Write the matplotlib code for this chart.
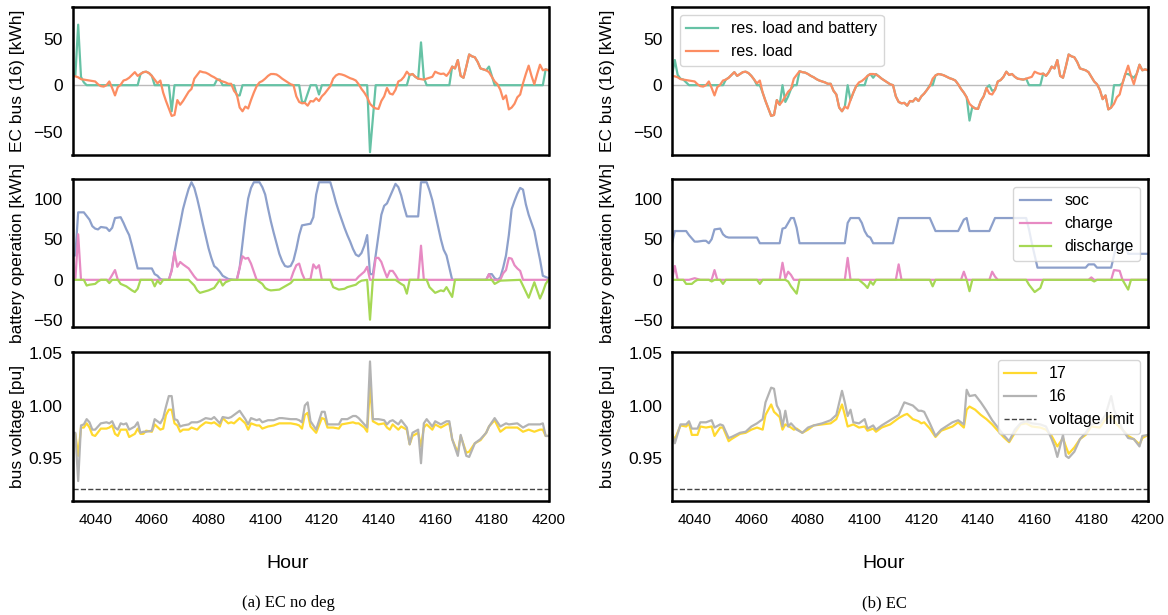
import numpy as np
import matplotlib
matplotlib.use("Agg")
import matplotlib.pyplot as plt

plt.rcParams['font.family'] = ['Liberation Sans', 'DejaVu Sans']

# ---- data ----
hours = np.arange(4032, 4201)

# residual load at bus 16, same in both runs
res_load = [10, 9.5, 8.5, 6.5, 6, 5.5, 5, 4.5, 4, 1,
            -1, -1.5, 0, 4, -3, -11, -2, 0.5, 5, 6,
            8, 11, 14, 10, 12, 14, 14.5, 13, 10, 6,
            2, 5, -8, -17, -25, -33, -32, -16, -21, -17,
            -12, -7, -4, 7, 11, 15, 14, 13.5, 12, 10,
            8.5, 6.5, 5, 4, 3, 1.5, 1.5, -6, -10, -24,
            -28, -23, -25, -16, -8, -1, 3, 4.5, 7, 10,
            12, 12, 11.5, 9.5, 7, 5, 3, 1, 0, -12,
            -18, -19.5, -19, -22, -17, -17.5, -14, -17, -12, -9,
            -5, -1, 7, 10.5, 12, 11.5, 10.5, 9, 7.5, 6.5,
            5, 1, -4, -8, -13, -20, -23, -25, -25.5, -17,
            -12, -3, -9, -10, -5, 4, 5.5, 9, 14.5, 11,
            12, 9, 7, 6.5, 6, 7, 8, 9, 14.5, 13,
            12, 12.5, 10, 14, 20, 18, 27, 10, 8, 20,
            33, 31, 30, 25, 18, 17, 16, 14, 9, 4,
            1, -5, -15, -11, -26, -24, -20, -13, -10, 2,
            12, 21, 10, 1, 12, 22, 16, 17, 16]

# res. load and battery, EC run
res_bat_ec = [10, 27, 11, 7, 6, 3, 0, 0, 0, 0,
              0, 0, 0, 0, 0, 0, 0, 0, 0, 6,
              8, 11, 14, 10, 12, 14, 14.5, 13, 10, 6,
              0, 0, -8, -17, -25, -33, -32, -16, -21, 0,
              -18, -12, -4, 0, 0, 15, 14, 13.5, 12, 10,
              8.5, 6.5, 5, 4, 3, 1.5, 1.5, -6, -10, -24,
              -28, -23, 0, -16, -8, -1, 0, 0, 0, 10,
              12, 8, 12, 9.5, 7, 5, 3, 1, 0, -12,
              -18, -19.5, -19, -22, -17, -17.5, -14, -17, -12, -9,
              -5, 0, 0, 10.5, 12, 11.5, 10.5, 9, 7.5, 6.5,
              5, 1, -4, -8, -13, -38, -23, -25, -25.5, -17,
              -12, -3, 0, -6, -5, 4, 5.5, 9, 14.5, 11,
              12, 9, 7, 6.5, 6, 7, 0, 0, 0, 0,
              0, 12.5, 10, 14, 20, 18, 27, 10, 8, 20,
              33, 31, 30, 25, 18, 17, 16, 14, 9, 4,
              1, -5, -15, -11, -26, -24, 0, 0, 0, 2,
              12, 12, 10, 8, 12, 22, 16, 17, 16]

# res. load and battery, EC no deg run (break points)
res_bat_nd_h = [4032, 4033, 4034, 4035, 4036, 4037, 4055, 4056, 4057, 4058, 4059, 4060, 4061,
                4066, 4067, 4068, 4082, 4083, 4084, 4085, 4089, 4090, 4091, 4092,
                4112, 4113, 4114, 4116, 4118, 4119, 4120, 4136, 4137, 4139,
                4150, 4151, 4152, 4153, 4154, 4155, 4156, 4157,
                4165, 4166, 4167, 4168, 4169, 4170, 4171, 4172, 4173, 4174, 4175, 4176,
                4177, 4178, 4179, 4180, 4181, 4198, 4199, 4200]
res_bat_nd = [10, 10, 65, 9, 3, 0, 0, 12, 14, 14.5, 13, 10, 0,
              0, -28, 0, 0, 6, 6, 0, 0, -11, -11, 0,
              0, -18, -18, 0, 0, -10, 0, 0, -72, 0,
              0, 11, 12, 9, 7, 46, 8, 0,
              0, 20, 18, 27, 10, 8, 20, 33, 31, 30, 25, 18,
              17, 16, 20, 10, 0, 0, 17, 16]

# battery, EC no deg
soc_nd_h = [4032, 4033, 4034, 4036, 4038, 4039, 4040, 4041, 4042, 4044, 4045, 4046, 4047, 4049,
            4050, 4051, 4052, 4053, 4054, 4055, 4060, 4061, 4062, 4063, 4064, 4066, 4067, 4068,
            4069, 4070, 4071, 4072, 4073, 4074, 4075, 4076, 4077, 4078, 4079, 4080, 4081, 4082,
            4083, 4084, 4085, 4087, 4089, 4090, 4091, 4092, 4093, 4094, 4095, 4096, 4098, 4099,
            4100, 4101, 4102, 4103, 4104, 4105, 4106, 4107, 4108, 4109, 4110, 4111, 4112, 4113,
            4116, 4117, 4118, 4119, 4123, 4124, 4125, 4126, 4127, 4128, 4129, 4130, 4131, 4132,
            4133, 4134, 4135, 4136, 4137, 4138, 4139, 4140, 4141, 4142, 4143, 4144, 4145, 4146,
            4147, 4148, 4149, 4150, 4154, 4155, 4157, 4158, 4159, 4160, 4161, 4162, 4163, 4164,
            4165, 4166, 4178, 4179, 4180, 4181, 4182, 4183, 4184, 4185, 4186, 4187, 4188, 4189,
            4190, 4191, 4192, 4193, 4194, 4195, 4196, 4197, 4198, 4200]
soc_nd = [30, 30, 83, 83, 74, 66, 63, 62, 65, 64, 60, 64, 76, 77,
          70, 62, 55, 42, 28, 14, 14, 7, 5, 1, 0, 0, 12, 34,
          52, 69, 87, 100, 112, 120, 113, 100, 85, 69, 54, 39, 27, 17,
          14, 10, 5, 1, 0, 0, 15, 45, 75, 100, 113, 120, 120, 114,
          105, 88, 72, 58, 45, 32, 23, 17, 16, 17, 24, 38, 55, 67,
          69, 77, 105, 120, 120, 108, 95, 84, 74, 64, 55, 47, 38, 31,
          29, 33, 42, 55, 7, 7, 30, 55, 80, 91, 94, 102, 110, 118,
          114, 104, 90, 78, 78, 120, 120, 110, 98, 82, 66, 50, 37, 30,
          15, 0, 0, 7, 7, 2, 0, 3, 15, 30, 55, 87, 97, 106,
          113, 111, 93, 80, 70, 60, 42, 25, 5, 2]

charge_nd_h = [4032, 4033, 4034, 4035, 4045, 4047, 4048, 4066, 4067, 4068, 4069, 4070, 4071,
               4073, 4075, 4076, 4090, 4091, 4092, 4093, 4094, 4095, 4096, 4097, 4109, 4110,
               4111, 4112, 4113, 4114, 4116, 4117, 4118, 4119, 4120, 4132, 4133, 4135, 4136,
               4137, 4138, 4139, 4140, 4141, 4142, 4143, 4144, 4145, 4146, 4147, 4154, 4155,
               4156, 4178, 4179, 4180, 4183, 4184, 4185, 4186, 4187, 4188, 4189, 4190, 4191, 4200]
charge_nd = [0, 0, 56, 0, 0, 12, 0, 0, 11, 34, 16, 22, 19,
             14, 4, 0, 0, 15, 29, 26, 27, 20, 10, 0, 0, 10,
             18, 20, 8, 0, 1, 19, 14, 18, 0, 0, 4, 10, 16,
             0, 0, 27, 27, 22, 12, 3, 11, 11, 6, 0, 0, 42,
             0, 0, 7, 0, 0, 8, 12, 27, 26, 18, 14, 11, 0, 0]

discharge_nd_h = [4032, 4036, 4037, 4038, 4040, 4041, 4042, 4044, 4045, 4046, 4048, 4049, 4051,
                  4053, 4054, 4055, 4056, 4060, 4061, 4062, 4063, 4064, 4073, 4075, 4076, 4077,
                  4080, 4082, 4083, 4084, 4085, 4086, 4088, 4097, 4099, 4100, 4101, 4102, 4105,
                  4106, 4108, 4109, 4110, 4123, 4124, 4126, 4128, 4129, 4132, 4133, 4134, 4136,
                  4137, 4138, 4146, 4148, 4149, 4150, 4151, 4157, 4158, 4160, 4162, 4163, 4164,
                  4166, 4167, 4180, 4181, 4183, 4190, 4193, 4195, 4197, 4198, 4199, 4200]
discharge_nd = [0, 0, -7, -6, -5, -2, 0, 0, -4, 0, 0, -5, -8,
                -13, -15, -11, 0, 0, -8, -1, -5, 0, 0, -7, -13, -16,
                -13, -10, -5, 0, -7, -3, 0, 0, -5, -10, -12, -13, -12,
                -10, -6, -4, 0, 0, -9, -12, -11, -9, -6, -3, -1, 0,
                -49, 0, 0, -5, -7, -17, 0, 0, -9, -16, -13, -14, -9,
                -21, 0, 0, -5, -1, 0, -22, -3, -23, -15, -5, 0]

# battery, EC
soc_ec_h = [4032, 4033, 4037, 4038, 4039, 4040, 4041, 4043, 4044, 4045, 4046, 4047, 4049, 4050,
            4051, 4052, 4062, 4063, 4070, 4071, 4072, 4073, 4074, 4075, 4076, 4077, 4093, 4094,
            4095, 4098, 4099, 4100, 4101, 4102, 4103, 4110, 4112, 4123, 4125, 4133, 4135, 4136,
            4137, 4144, 4146, 4157, 4158, 4159, 4160, 4161, 4178, 4179, 4181, 4182, 4187, 4188,
            4189, 4192, 4193, 4200]
soc_ec = [45, 60, 60, 55, 51, 47, 47, 48, 48, 45, 50, 62, 63, 56,
          53, 52, 52, 45, 45, 63, 64, 70, 76, 76, 64, 45, 45, 70,
          76, 76, 70, 60, 54, 52, 45, 45, 76, 76, 60, 60, 74, 76,
          60, 60, 76, 76, 62, 45, 30, 15, 15, 19, 19, 15, 15, 30,
          45, 45, 32, 32]

charge_ec_h = [4032, 4033, 4034, 4038, 4040, 4042, 4046, 4047, 4048, 4070, 4071, 4072, 4073,
               4074, 4075, 4093, 4094, 4095, 4111, 4112, 4113, 4134, 4135, 4136, 4144, 4145,
               4146, 4147, 4179, 4180, 4181, 4187, 4188, 4190, 4191, 4200]
charge_ec = [0, 17, 0, 0, 2, 0, 0, 12, 0, 0, 21, 2, 10,
             6, 0, 0, 27, 0, 0, 19, 0, 0, 10, 0, 0, 10,
             4, 0, 0, 3, 0, 0, 12, 11, 0, 0]

discharge_ec_h = [4032, 4036, 4037, 4039, 4040, 4041, 4045, 4046, 4047, 4049, 4050, 4051, 4062,
                  4063, 4064, 4072, 4073, 4074, 4076, 4077, 4098, 4100, 4101, 4102, 4103, 4104,
                  4123, 4124, 4125, 4136, 4137, 4138, 4157, 4158, 4160, 4162, 4163, 4180, 4181,
                  4182, 4191, 4193, 4194, 4200]
discharge_ec = [0, 0, -5, -5, -2, 0, 0, -2, 0, 0, -5, 0, 0,
                -5, 0, 0, -2, -8, -17, 0, 0, -6, -10, -2, -6, 0,
                0, -8, 0, 0, -14, 0, 0, -6, -15, -10, 0, 0, -2,
                0, 0, -12, 0, 0]

# bus voltages, EC no deg
volt_nd_h = [4032, 4033, 4034, 4035, 4036, 4037, 4038, 4039, 4040, 4042, 4044, 4045, 4046, 4047,
             4048, 4049, 4050, 4051, 4052, 4054, 4055, 4056, 4057, 4058, 4060, 4061, 4063, 4064,
             4065, 4066, 4067, 4068, 4069, 4070, 4071, 4073, 4074, 4076, 4077, 4079, 4081, 4082,
             4084, 4085, 4087, 4088, 4089, 4091, 4093, 4094, 4095, 4097, 4098, 4099, 4101, 4103,
             4105, 4106, 4109, 4111, 4112, 4113, 4114, 4115, 4116, 4118, 4120, 4121, 4122, 4124,
             4126, 4127, 4129, 4131, 4132, 4133, 4135, 4136, 4137, 4138, 4140, 4142, 4143, 4144,
             4145, 4147, 4148, 4150, 4151, 4152, 4154, 4155, 4156, 4157, 4159, 4160, 4162, 4164,
             4165, 4166, 4168, 4169, 4171, 4172, 4174, 4176, 4178, 4179, 4181, 4183, 4185, 4186,
             4189, 4191, 4193, 4195, 4197, 4198, 4199, 4200]
v17_nd = [0.973, 0.973, 0.952, 0.979, 0.979, 0.983, 0.979, 0.972, 0.971, 0.978, 0.978, 0.979,
          0.981, 0.973, 0.971, 0.977, 0.977, 0.977, 0.970, 0.973, 0.978, 0.973, 0.973, 0.976,
          0.975, 0.982, 0.977, 0.978, 0.991, 0.996, 0.996, 0.983, 0.981, 0.975, 0.977, 0.977,
          0.979, 0.977, 0.980, 0.984, 0.983, 0.984, 0.980, 0.988, 0.983, 0.984, 0.983, 0.988,
          0.983, 0.977, 0.983, 0.981, 0.981, 0.978, 0.980, 0.981, 0.983, 0.983, 0.983, 0.982,
          0.981, 0.978, 0.991, 0.993, 0.980, 0.974, 0.988, 0.987, 0.979, 0.979, 0.978, 0.982,
          0.983, 0.984, 0.983, 0.983, 0.979, 0.975, 1.018, 0.985, 0.982, 0.983, 0.979, 0.977,
          0.982, 0.977, 0.980, 0.977, 0.963, 0.971, 0.974, 0.961, 0.979, 0.982, 0.977, 0.982,
          0.979, 0.982, 0.983, 0.968, 0.955, 0.971, 0.955, 0.956, 0.964, 0.967, 0.974, 0.980,
          0.986, 0.975, 0.979, 0.979, 0.979, 0.975, 0.977, 0.975, 0.977, 0.977, 0.971, 0.971]
v16_nd = [0.974, 0.974, 0.928, 0.981, 0.982, 0.987, 0.984, 0.977, 0.977, 0.983, 0.984, 0.983,
          0.985, 0.979, 0.977, 0.983, 0.982, 0.983, 0.977, 0.980, 0.984, 0.974, 0.975, 0.975,
          0.976, 0.987, 0.983, 0.988, 0.999, 1.009, 1.009, 0.987, 0.986, 0.980, 0.981, 0.982,
          0.984, 0.984, 0.985, 0.988, 0.987, 0.989, 0.983, 0.989, 0.988, 0.989, 0.991, 0.995,
          0.987, 0.982, 0.988, 0.986, 0.987, 0.984, 0.986, 0.986, 0.988, 0.988, 0.987, 0.987,
          0.986, 0.984, 1.000, 1.003, 0.985, 0.977, 0.994, 0.994, 0.982, 0.982, 0.982, 0.987,
          0.987, 0.990, 0.990, 0.988, 0.982, 0.979, 1.042, 0.987, 0.987, 0.986, 0.982, 0.985,
          0.986, 0.982, 0.986, 0.979, 0.963, 0.974, 0.977, 0.945, 0.983, 0.987, 0.980, 0.985,
          0.982, 0.985, 0.985, 0.968, 0.952, 0.972, 0.952, 0.951, 0.964, 0.968, 0.974, 0.980,
          0.988, 0.980, 0.983, 0.982, 0.983, 0.979, 0.982, 0.982, 0.982, 0.983, 0.971, 0.971]

# bus voltages, EC
v17_ec_h = [4032, 4033, 4035, 4037, 4038, 4039, 4041, 4042, 4044, 4046, 4047, 4049, 4050, 4052,
            4053, 4056, 4058, 4060, 4062, 4064, 4065, 4067, 4068, 4070, 4071, 4072, 4074, 4075,
            4076, 4078, 4080, 4082, 4085, 4088, 4090, 4092, 4093, 4094, 4096, 4098, 4100, 4101,
            4103, 4104, 4106, 4109, 4112, 4114, 4115, 4117, 4119, 4120, 4121, 4123, 4125, 4127,
            4131, 4133, 4135, 4136, 4137, 4139, 4141, 4143, 4145, 4147, 4149, 4151, 4153, 4155,
            4157, 4159, 4162, 4164, 4166, 4168, 4170, 4171, 4172, 4174, 4176, 4178, 4180, 4183,
            4185, 4187, 4189, 4191, 4193, 4195, 4197, 4198, 4200]
v17_ec = [0.972, 0.968, 0.981, 0.980, 0.983, 0.972, 0.972, 0.980, 0.979, 0.980, 0.971, 0.979,
          0.979, 0.966, 0.968, 0.973, 0.974, 0.977, 0.979, 0.977, 0.991, 1.001, 0.994, 0.989,
          0.977, 0.982, 0.979, 0.977, 0.978, 0.974, 0.977, 0.981, 0.982, 0.983, 0.987, 1.001,
          0.991, 0.980, 0.982, 0.979, 0.980, 0.976, 0.978, 0.975, 0.979, 0.982, 0.988, 0.991,
          0.992, 0.987, 0.985, 0.983, 0.984, 0.978, 0.970, 0.976, 0.980, 0.984, 0.979, 0.996,
          0.999, 0.996, 0.991, 0.987, 0.982, 0.976, 0.970, 0.965, 0.974, 0.982, 0.983, 0.980,
          0.979, 0.977, 0.971, 0.961, 0.969, 0.961, 0.954, 0.960, 0.968, 0.972, 0.980, 0.979,
          0.987, 0.991, 0.982, 0.977, 0.971, 0.968, 0.963, 0.969, 0.972]

v16_ec_h = [4032, 4033, 4035, 4037, 4038, 4039, 4041, 4042, 4044, 4046, 4047, 4049, 4050, 4052,
            4053, 4056, 4058, 4060, 4062, 4064, 4065, 4067, 4068, 4069, 4070, 4071, 4072, 4073,
            4074, 4076, 4078, 4080, 4082, 4085, 4088, 4090, 4092, 4093, 4094, 4095, 4096, 4098,
            4100, 4101, 4103, 4104, 4106, 4109, 4112, 4114, 4115, 4117, 4119, 4120, 4121, 4123,
            4125, 4127, 4131, 4133, 4135, 4136, 4137, 4139, 4141, 4143, 4145, 4147, 4149, 4151,
            4153, 4155, 4157, 4159, 4162, 4164, 4166, 4167, 4168, 4170, 4171, 4172, 4174, 4176,
            4178, 4180, 4183, 4185, 4187, 4188, 4191, 4193, 4195, 4197, 4198, 4200]
v16_ec = [0.974, 0.964, 0.982, 0.982, 0.985, 0.978, 0.978, 0.984, 0.984, 0.986, 0.979, 0.982,
          0.981, 0.969, 0.970, 0.974, 0.975, 0.980, 0.983, 0.987, 1.003, 1.017, 1.016, 1.000,
          0.995, 0.980, 0.995, 0.980, 0.983, 0.977, 0.974, 0.979, 0.981, 0.983, 0.986, 0.991,
          1.014, 1.003, 0.990, 0.996, 0.984, 0.983, 0.987, 0.978, 0.981, 0.977, 0.981, 0.986,
          0.991, 1.003, 1.002, 1.000, 0.995, 0.995, 0.994, 0.983, 0.971, 0.977, 0.984, 0.986,
          0.982, 1.015, 1.009, 1.010, 1.003, 0.995, 0.986, 0.979, 0.972, 0.966, 0.977, 0.983,
          0.985, 0.983, 0.982, 0.980, 0.968, 0.961, 0.951, 0.972, 0.952, 0.950, 0.956, 0.968,
          0.974, 0.982, 0.983, 0.991, 1.009, 0.996, 0.977, 0.969, 0.968, 0.961, 0.971, 0.972]

v_limit = 0.92

# Set2 colours
c_bat, c_load, c_soc, c_ch, c_dis, c_17, c_16 = ('#66c2a5', '#fc8d62', '#8da0cb', '#e78ac3',
                                                  '#a6d854', '#ffd92f', '#b3b3b3')

fig = plt.figure(figsize=(11.68, 6.15), dpi=100)

col_x = [72.5 / 1168, 672 / 1168]
ax_w = 476 / 1168
rows = [(7, 155), (179, 327), (352, 501)]

axes = []
for c in range(2):
    col = []
    for top, bot in rows:
        ax = fig.add_axes([col_x[c], 1 - bot / 615, ax_w, (bot - top) / 615])
        col.append(ax)
    axes.append(col)

runs = [
    dict(bat_h=res_bat_nd_h, bat=res_bat_nd, soc_h=soc_nd_h, soc=soc_nd,
         ch_h=charge_nd_h, ch=charge_nd, dis_h=discharge_nd_h, dis=discharge_nd,
         v17_h=volt_nd_h, v17=v17_nd, v16_h=volt_nd_h, v16=v16_nd, caption='(a) EC no deg'),
    dict(bat_h=hours, bat=res_bat_ec, soc_h=soc_ec_h, soc=soc_ec,
         ch_h=charge_ec_h, ch=charge_ec, dis_h=discharge_ec_h, dis=discharge_ec,
         v17_h=v17_ec_h, v17=v17_ec, v16_h=v16_ec_h, v16=v16_ec, caption='(b) EC'),
]

lw = 1.6
for c, r in enumerate(runs):
    a1, a2, a3 = axes[c]
    a1.axhline(0, color='#bbbbbb', lw=1, zorder=1)
    a1.plot(r['bat_h'], r['bat'], color=c_bat, lw=lw, label='res. load and battery')
    a1.plot(hours, res_load, color=c_load, lw=lw, label='res. load')
    a1.set_ylim(-75, 84)
    a1.set_yticks([-50, 0, 50])
    a1.set_ylabel('EC bus (16) [kWh]', fontsize=12.5)

    a2.plot(r['soc_h'], r['soc'], color=c_soc, lw=lw, label='soc')
    a2.plot(r['ch_h'], r['ch'], color=c_ch, lw=lw, label='charge')
    a2.plot(r['dis_h'], r['dis'], color=c_dis, lw=lw, label='discharge')
    a2.set_ylim(-58, 124)
    a2.set_yticks([-50, 0, 50, 100])
    a2.set_ylabel('battery operation [kWh]', fontsize=12.5)

    a3.plot(r['v17_h'], r['v17'], color=c_17, lw=lw, label='17')
    a3.plot(r['v16_h'], r['v16'], color=c_16, lw=lw, label='16')
    a3.axhline(v_limit, color='#444444', lw=1, ls='--', label='voltage limit')
    a3.set_ylim(0.909, 1.051)
    a3.set_yticks([0.95, 1.00, 1.05])
    a3.set_yticklabels(['0.95', '1.00', '1.05'])
    a3.set_ylabel('bus voltage [pu]', fontsize=12.5)

    for ax in (a1, a2, a3):
        ax.set_xlim(4032, 4200)
        ax.set_xticks(range(4040, 4201, 20))
        ax.tick_params(length=0, labelsize=12.5, pad=7)
        for s in ax.spines.values():
            s.set_linewidth(1.8)
            s.set_color('black')
        ax.yaxis.set_label_coords(-0.1 if c == 0 else -0.12, 0.5)
    a1.set_xticklabels([])
    a2.set_xticklabels([])
    a3.tick_params(axis='x', labelsize=11, pad=9)

    cx = [288 / 1168, 884 / 1168][c]
    fig.text(cx, 1 - 563 / 615, 'Hour', ha='center', va='center', fontsize=14)
    fig.text(cx, 1 - 603 / 615, r['caption'], ha='center', va='center', fontsize=12,
             family=['Liberation Serif', 'DejaVu Serif'])

axes[1][0].legend(loc='upper left', fontsize=11.5)
axes[1][1].legend(loc='upper right', fontsize=11.5)
axes[1][2].legend(loc='upper right', fontsize=11.5)

fig.savefig('out.png', dpi=100)
